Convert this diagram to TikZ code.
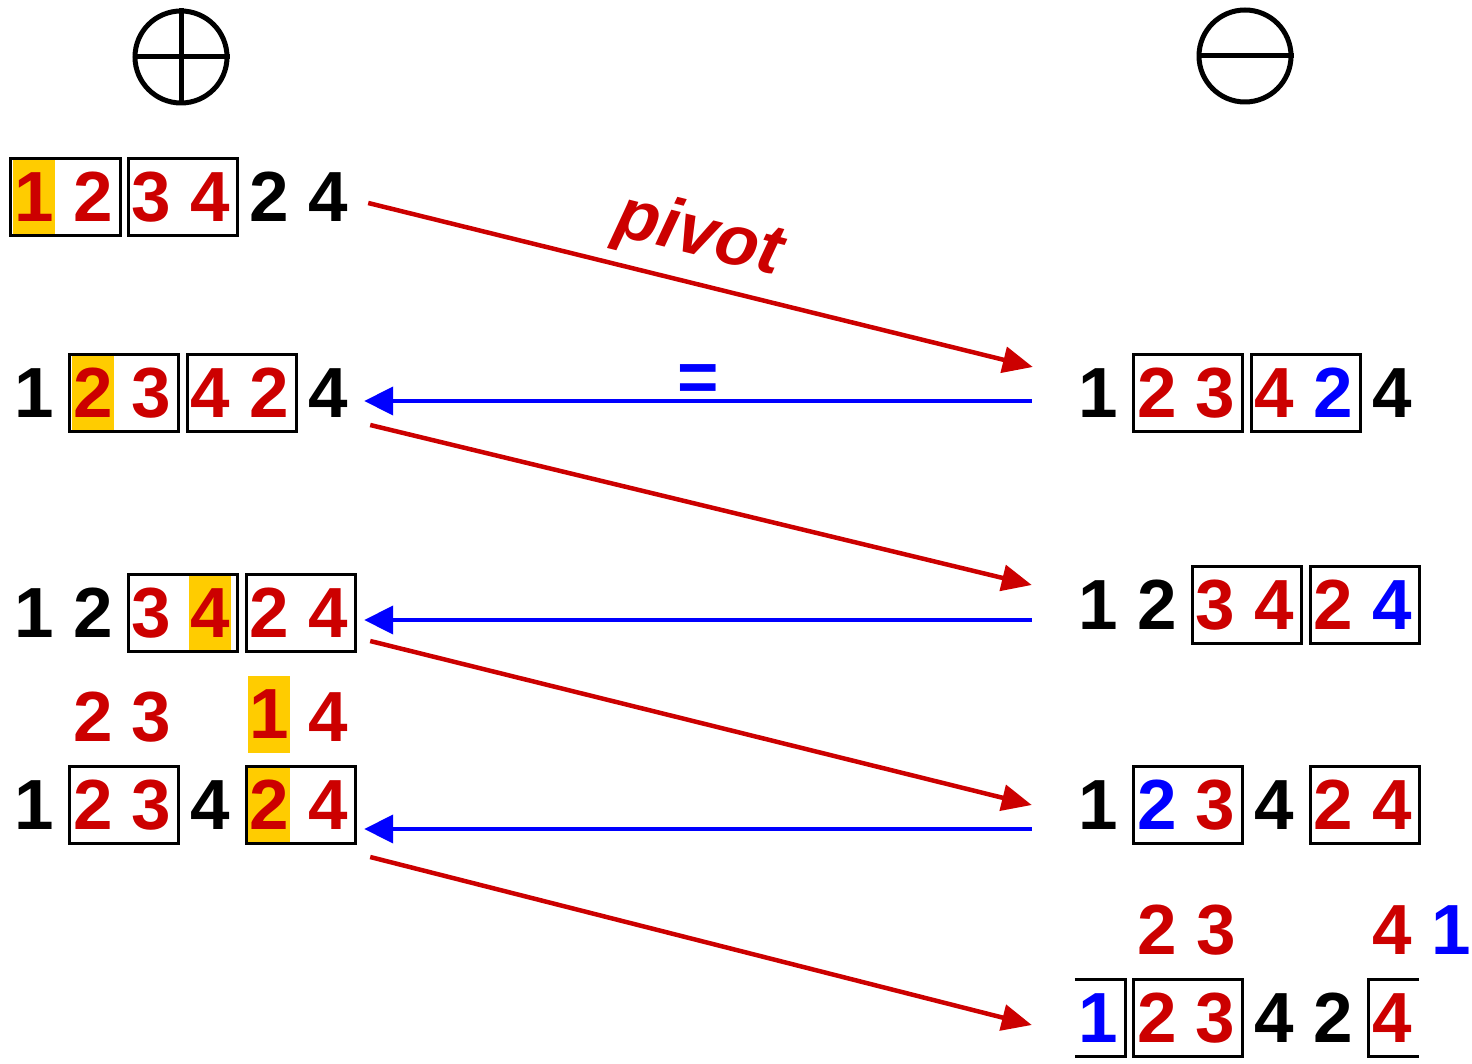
\documentclass[tikz,border=0pt]{standalone}
\usepackage{fontspec}
\setmainfont{Liberation Sans}
\usetikzlibrary{arrows.meta, positioning, fit, calc}
\definecolor{numred}{RGB}{204,0,0}
\definecolor{numblue}{RGB}{0,0,255}
\definecolor{pivotbg}{RGB}{255,204,0}

\begin{document}
\begin{tikzpicture}[
    x=1pt, y=-1pt,
    every node/.style={font=\fontsize{71pt}{71pt}\selectfont\bfseries},
    dig/.style={inner sep=0pt, minimum width=42pt, minimum height=77pt},
    grp/.style={draw, line width=3pt, inner xsep=4pt, inner ysep=0pt, xshift=2pt},
    frame/.style={draw, line width=3pt},
    sign/.style={circle, draw, line width=5pt, minimum size=92pt, inner sep=0pt},
    fwd/.style={-{Triangle[length=30pt,width=26pt]}, line width=4.5pt, draw=numred},
    back/.style={-{Triangle[length=29pt,width=28pt]}, line width=4pt, draw=numblue}
]
\useasboundingbox (0,0) rectangle (1472,1064);

% Signs
\node[sign] (plus) at (181,57) {};
\draw[line width=5pt] (plus.north) -- (plus.south) (plus.west) -- (plus.east);
\node[sign] (minus) at (1245,56) {};
\draw[line width=5pt] (minus.west) -- (minus.east);

% Left column
\foreach \d/\c/\f [count=\i] in {1/numred/pivotbg, 2/numred/none, 3/numred/none, 4/numred/none, 2/black/none, 4/black/none}
    \node[dig, text=\c, fill=\f] (p1-\i) at ({34+58.8*(\i-1)},197) {\d};
\foreach \d/\c/\f [count=\i] in {1/black/none, 2/numred/pivotbg, 3/numred/none, 4/numred/none, 2/numred/none, 4/black/none}
    \node[dig, text=\c, fill=\f] (p2-\i) at ({34+58.8*(\i-1)},393) {\d};
\foreach \d/\c/\f [count=\i] in {1/black/none, 2/black/none, 3/numred/none, 4/numred/pivotbg, 2/numred/none, 4/numred/none}
    \node[dig, text=\c, fill=\f] (p3-\i) at ({34+58.8*(\i-1)},613) {\d};
\foreach \d/\c/\f [count=\i] in {1/black/none, 2/numred/none, 3/numred/none, 4/black/none, 2/numred/pivotbg, 4/numred/none}
    \node[dig, text=\c, fill=\f] (p4-\i) at ({34+58.8*(\i-1)},805) {\d};
\node[dig, text=numred] (p4t-2) at (93,717) {2};
\node[dig, text=numred] (p4t-3) at (151,717) {3};
\node[dig, text=numred, fill=pivotbg] (p4t-5) at (269,714) {1};
\node[dig, text=numred] (p4t-6) at (328,717) {4};

% Right column
\foreach \d/\c [count=\i] in {1/black, 2/numred, 3/numred, 4/numred, 2/numblue, 4/black}
    \node[dig, text=\c] (m2-\i) at ({1098+58.8*(\i-1)},393) {\d};
\foreach \d/\c [count=\i] in {1/black, 2/black, 3/numred, 4/numred, 2/numred, 4/numblue}
    \node[dig, text=\c] (m3-\i) at ({1098+58.8*(\i-1)},605) {\d};
\foreach \d/\c [count=\i] in {1/black, 2/numblue, 3/numred, 4/black, 2/numred, 4/numred}
    \node[dig, text=\c] (m4-\i) at ({1098+58.8*(\i-1)},805) {\d};
\foreach \d/\c [count=\i] in {1/numblue, 2/numred, 3/numred, 4/black, 2/black, 4/numred}
    \node[dig, text=\c] (m5-\i) at ({1098+58.8*(\i-1)},1018) {\d};
\node[dig, text=numred] (m5t-2) at (1157,930) {2};
\node[dig, text=numred] (m5t-3) at (1216,930) {3};
\node[dig, text=numred] (m5t-6) at (1392,930) {4};
\node[dig, text=numblue] (m5t-7) at (1451,930) {1};

% Blocks
\node[grp, fit=(p1-1)(p1-2)] {};
\node[grp, fit=(p1-3)(p1-4)] {};
\node[grp, fit=(p2-2)(p2-3)] {};
\node[grp, fit=(p2-4)(p2-5)] {};
\node[grp, fit=(p3-3)(p3-4)] {};
\node[grp, fit=(p3-5)(p3-6)] {};
\node[grp, fit=(p4-2)(p4-3)] {};
\node[grp, fit=(p4-5)(p4-6)] {};
\node[grp, fit=(m2-2)(m2-3)] {};
\node[grp, fit=(m2-4)(m2-5)] {};
\node[grp, fit=(m3-3)(m3-4)] {};
\node[grp, fit=(m3-5)(m3-6)] {};
\node[grp, fit=(m4-2)(m4-3)] {};
\node[grp, fit=(m4-5)(m4-6)] {};
\node[grp, fit=(m5-2)(m5-3)] {};
% wrap-around block, open at both ends
\draw[frame] ([xshift=-2pt]m5-1.north west) -| ([xshift=6pt]m5-1.south east) -- ([xshift=-2pt]m5-1.south west);
\draw[frame] ([xshift=6pt]m5-6.north east) -| ([xshift=-2pt]m5-6.south west) -- ([xshift=6pt]m5-6.south east);

% Labels
\node[text=numred, rotate=-14, font=\fontsize{71pt}{71pt}\selectfont\bfseries\itshape] (pivot) at (699,237) {pivot};
\node[text=numblue] (eq) at (698,383) {=};

% Edges
\draw[fwd] ($(p1-6.east)+(19,6)$) -- ($(m2-1.west)+(-44,-26)$);
\draw[back] ($(m2-1.west)+(-45,8)$) -- ($(p2-6.east)+(15,8)$);
\draw[fwd] ($(p2-6.east)+(21,32)$) -- ($(m3-1.west)+(-45,-20)$);
\draw[back] ($(m3-1.west)+(-45,15)$) -- ($(p3-6.east)+(15,7)$);
\draw[fwd] ($(p3-6.east)+(21,28)$) -- ($(m4-1.west)+(-45,0)$);
\draw[back] ($(m4-1.west)+(-45,24)$) -- ($(p4-6.east)+(15,24)$);
\draw[fwd] ($(p4-6.east)+(21,52)$) -- ($(m5-1.west)+(-45,7)$);

\end{tikzpicture}
\end{document}
